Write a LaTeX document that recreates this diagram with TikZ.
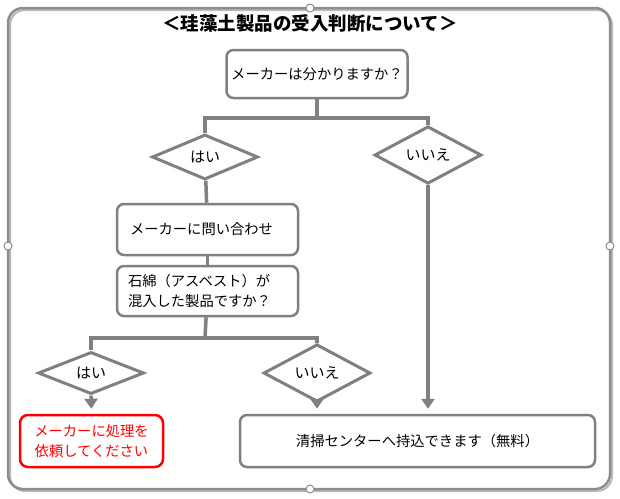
\documentclass[tikz,border=0pt]{standalone}
\usepackage{fontspec}
\newfontfamily\jpfont{Noto Sans CJK JP}
\usetikzlibrary{shapes.geometric, arrows.meta}

\definecolor{linegray}{HTML}{808080}
\definecolor{framegray}{HTML}{8C8C8C}

\tikzset{
  box/.style={draw=linegray, line width=2.5pt, rounded corners=7pt, fill=white,
    font=\jpfont\fontsize{14.3}{20}\selectfont, inner sep=0pt},
  choice/.style={diamond, draw=linegray, line width=3pt, fill=white, inner sep=0pt,
    font=\jpfont\fontsize{15}{16}\selectfont},
  link/.style={draw=linegray, line width=3.5pt},
  handle/.style={circle, draw=framegray, fill=white, line width=1pt,
    minimum size=8pt, inner sep=0pt}
}

\begin{document}
\begin{tikzpicture}[x=1pt, y=-1pt, >={Triangle[width=13pt,length=10pt]}]
  \useasboundingbox (0,0) rectangle (620,498);

  % 枠
  \draw[framegray!60, line width=2pt, rounded corners=15pt] (10,10) rectangle (612,491);
  \draw[framegray, line width=2.5pt, rounded corners=15pt] (8,8) rectangle (610,489);

  % タイトル
  \node[font=\jpfont\bfseries\fontsize{18.5}{20}\selectfont] (title) at (310,23)
    {＜珪藻土製品の受入判断について＞};

  % 質問
  \node[box, minimum width=181pt, minimum height=48pt] (maker) at (317,74)
    {メーカーは分かりますか？};
  \node[choice, minimum width=106pt, minimum height=45pt] (yes1) at (205,157) {はい};
  \node[choice, minimum width=107pt, minimum height=44pt] (no1) at (428,155) {いいえ};

  \node[box, minimum height=51pt, text width=155pt, align=left, inner xsep=13pt]
    (ask) at (207.5,229.5) {メーカーに問い合わせ};
  \node[box, minimum height=50pt, text width=159pt, align=left, inner xsep=11pt]
    (asbestos) at (207.5,291) {石綿（アスベスト）が\\混入した製品ですか？};

  \node[choice, minimum width=106pt, minimum height=42pt] (yes2) at (91,373) {はい};
  \node[choice, minimum width=107pt, minimum height=42pt] (no2) at (317,373) {いいえ};

  % 結果
  \node[box, draw=red, text=red, minimum width=143pt, minimum height=52pt, align=center,
    rounded corners=8pt] (request) at (91.5,441) {メーカーに処理を\\依頼してください};
  \node[box, minimum width=355pt, minimum height=52pt] (center) at (417.5,441)
    {清掃センターへ持込できます（無料）};

  % 分岐
  \coordinate (split1) at (317,118);
  \coordinate (split2) at (205,338);
  \draw[link] (maker) -- (split1);
  \draw[link] (yes1.north) |- (split1) -| (no1.north);
  \draw[link] (yes1) -- (ask);
  \draw[link] (ask) -- (asbestos);
  \draw[link] (asbestos) -- (split2);
  \draw[link] (yes2.north) |- (split2) -| (no2.north);

  % 矢印
  \draw[link, ->, shorten >=5pt] (yes2.south) -- (request.north);
  \draw[link, ->, shorten >=5pt] (no2.south) -- (no2.south |- center.north);
  \draw[link, ->, shorten >=5pt] (no1.south) -- (no1.south |- center.north);

  % ハンドル
  \node[handle] (htop) at (310,8) {};
  \node[handle] (hbottom) at (310,489) {};
  \node[handle] (hleft) at (8,246) {};
  \node[handle] (hright) at (610,246) {};
\end{tikzpicture}
\end{document}
